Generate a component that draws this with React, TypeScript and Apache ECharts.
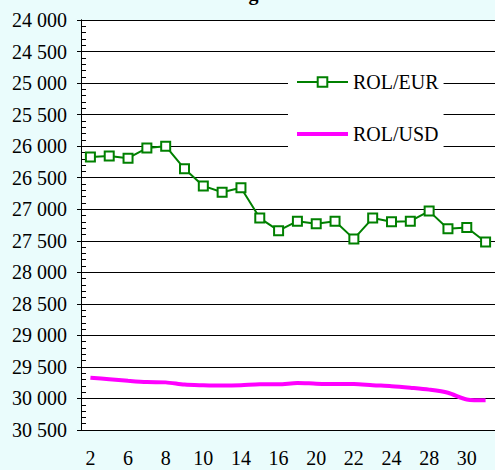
import React, { useEffect, useRef } from "react";
import * as echarts from "echarts";

const days = ["2", "3", "6", "7", "8", "9", "10", "13", "14", "15", "16", "17", "20", "21", "22", "23", "24", "27", "28", "29", "30", "31"];
const rolEur = [26170, 26155, 26190, 26030, 26000, 26360, 26630, 26730, 26660, 27140, 27340, 27190, 27230, 27190, 27470, 27140, 27200, 27190, 27030, 27310, 27290, 27520];
const rolUsd = [29670, 29695, 29720, 29740, 29745, 29780, 29790, 29795, 29790, 29775, 29775, 29755, 29765, 29770, 29770, 29790, 29805, 29830, 29860, 29910, 30015, 30030];
const titleText = "August";

const FONT = "Liberation Serif";

export default function App() {
  const ref = useRef<HTMLDivElement>(null);
  useEffect(() => {
    if (!ref.current) return;
    const chart = echarts.init(ref.current, null, { renderer: "svg" });
    const yBase = {
      type: "value" as const,
      min: 24000,
      max: 30500,
      interval: 500,
      inverse: true,
      position: "left" as const,
    };
    chart.setOption({
      animation: false,
      backgroundColor: "#EAFCFC",
      textStyle: { fontFamily: FONT },
      graphic: [
        {
          type: "text",
          left: 223,
          top: -17,
          style: { text: titleText, fontFamily: FONT, fontSize: 20, fontWeight: "bold", fill: "#000" },
        },
      ],
      grid: {
        left: 81,
        top: 20,
        right: -2,
        bottom: 40,
        show: true,
        backgroundColor: "#fff",
        borderWidth: 0,
      },
      legend: {
        orient: "vertical",
        left: 288,
        top: 60,
        backgroundColor: "#fff",
        padding: [12, 5, 16, 7],
        itemWidth: 51,
        itemHeight: 12,
        itemGap: 32,
        selectedMode: false,
        textStyle: { fontFamily: FONT, fontSize: 20, lineHeight: 20, color: "#000" },
        data: [
          { name: "ROL/EUR" },
          { name: "ROL/USD", itemStyle: { opacity: 0 }, lineStyle: { width: 4, color: "#FF00FF" } },
        ],
      },
      xAxis: {
        type: "category",
        data: days,
        boundaryGap: true,
        axisLine: { show: true, onZero: false, lineStyle: { color: "#000", width: 1 } },
        axisTick: { show: false },
        axisLabel: { interval: 1, margin: 18, fontFamily: FONT, fontSize: 20, color: "#000" },
        splitLine: { show: false },
      },
      yAxis: [
        {
          ...yBase,
          axisLine: { show: true, lineStyle: { color: "#000", width: 1 } },
          axisTick: { show: true, length: 4, lineStyle: { color: "#000" } },
          axisLabel: {
            margin: 14,
            fontFamily: FONT,
            fontSize: 20,
            color: "#000",
            formatter: (v: number) => String(v).replace(/\B(?=(\d{3})+(?!\d))/g, " "),
          },
          splitLine: { show: true, lineStyle: { color: "#000", width: 1 } },
        },
        {
          ...yBase,
          axisLine: { show: true, lineStyle: { color: "#000", width: 1 } },
          axisTick: { show: false, inside: true },
          axisLabel: { show: false },
          splitLine: { show: false },
          minorTick: { show: true, splitNumber: 5, length: 5, lineStyle: { color: "#000", width: 1 } },
        },
      ],
      series: [
        {
          name: "ROL/EUR",
          type: "line",
          data: rolEur,
          yAxisIndex: 0,
          symbol: "emptyRect",
          symbolSize: 9,
          itemStyle: { color: "#008000", borderWidth: 2 },
          lineStyle: { color: "#008000", width: 2 },
          z: 3,
        },
        {
          name: "ROL/USD",
          type: "line",
          data: rolUsd,
          yAxisIndex: 0,
          symbol: "none",
          smooth: 0.3,
          itemStyle: { color: "#FF00FF" },
          lineStyle: { color: "#FF00FF", width: 4 },
          z: 2,
        },
      ],
    });
    return () => chart.dispose();
  }, []);
  return <div ref={ref} style={{ position: "absolute", left: 0, top: 0, width: 495, height: 470 }} />;
}
